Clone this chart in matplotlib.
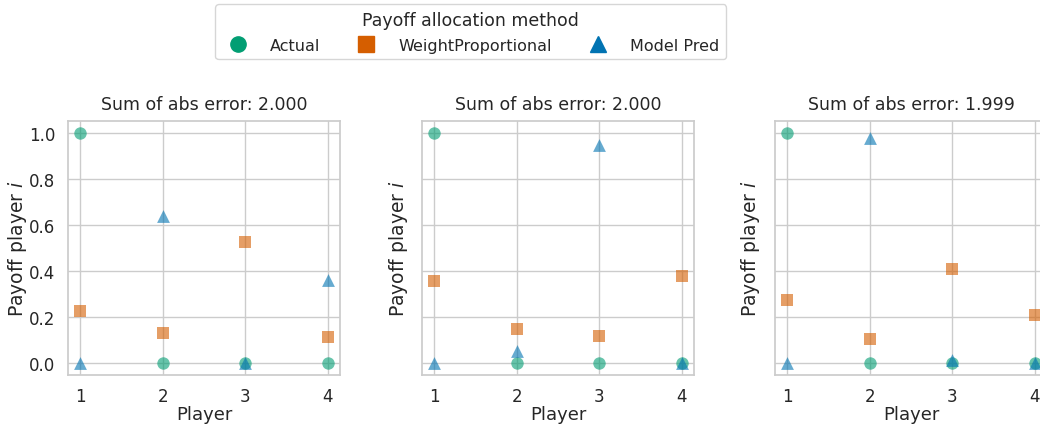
import numpy as np
import matplotlib
matplotlib.use("Agg")
import matplotlib.pyplot as plt
import seaborn as sns
from matplotlib.lines import Line2D

players = [1, 2, 3, 4]
titles = ["Sum of abs error: 2.000", "Sum of abs error: 2.000", "Sum of abs error: 1.999"]

actual = [
    [1.0, 0.0, 0.0, 0.0],
    [1.0, 0.0, 0.0, 0.0],
    [1.0, 0.0, 0.0, 0.0],
]
weight_prop = [
    [0.227, 0.131, 0.526, 0.115],
    [0.358, 0.148, 0.117, 0.377],
    [0.275, 0.105, 0.411, 0.208],
]
model_pred = [
    [0.0, 0.64, 0.0, 0.36],
    [0.0, 0.055, 0.945, 0.0],
    [0.0, 0.975, 0.015, 0.0],
]

sns.set_theme(style="whitegrid")
plt.rcParams['font.family'] = ['DejaVu Sans']

c_actual = "#029e73"
c_wp = "#d55e00"
c_model = "#0173b2"

fig = plt.figure(figsize=(10.4, 4.27), dpi=100)
lefts = [68, 422, 775]
axes = []
for k in range(3):
    ax = fig.add_axes([lefts[k] / 1040, 1 - 376 / 427, 272 / 1040, 254 / 427])
    ax.scatter(players, actual[k], s=80, marker="o", color=c_actual, alpha=0.6, linewidths=0)
    ax.scatter(players, weight_prop[k], s=80, marker="s", color=c_wp, alpha=0.6, linewidths=0)
    ax.scatter(players, model_pred[k], s=85, marker="^", color=c_model, alpha=0.6, linewidths=0)
    ax.set_xlim(0.85, 4.15)
    ax.set_ylim(-0.05, 1.05)
    ax.set_xticks(players)
    ax.set_yticks([0.0, 0.2, 0.4, 0.6, 0.8, 1.0])
    if k > 0:
        ax.set_yticklabels([])
    ax.tick_params(labelsize=12, pad=3)
    ax.set_xlabel("Player", fontsize=13, labelpad=0)
    ax.set_ylabel("Payoff player $i$", fontsize=13.5, labelpad=0)
    ax.set_title(titles[k], fontsize=12.5, pad=9)
    for sp in ax.spines.values():
        sp.set_color("#cccccc")
    axes.append(ax)

handles = [
    Line2D([], [], marker="o", color=c_actual, linestyle="", markersize=11),
    Line2D([], [], marker="s", color=c_wp, linestyle="", markersize=11),
    Line2D([], [], marker="^", color=c_model, linestyle="", markersize=11),
]
fig.legend(handles, ["Actual", "WeightProportional", "Model Pred"],
           title="Payoff allocation method", loc="upper center",
           bbox_to_anchor=(0.4525, 1.006), ncol=3, fontsize=11.5,
           title_fontsize=12.5, frameon=True, columnspacing=1.9,
           handletextpad=1.0, borderpad=0.4, labelspacing=0.55)

fig.savefig("out.png", dpi=100)
